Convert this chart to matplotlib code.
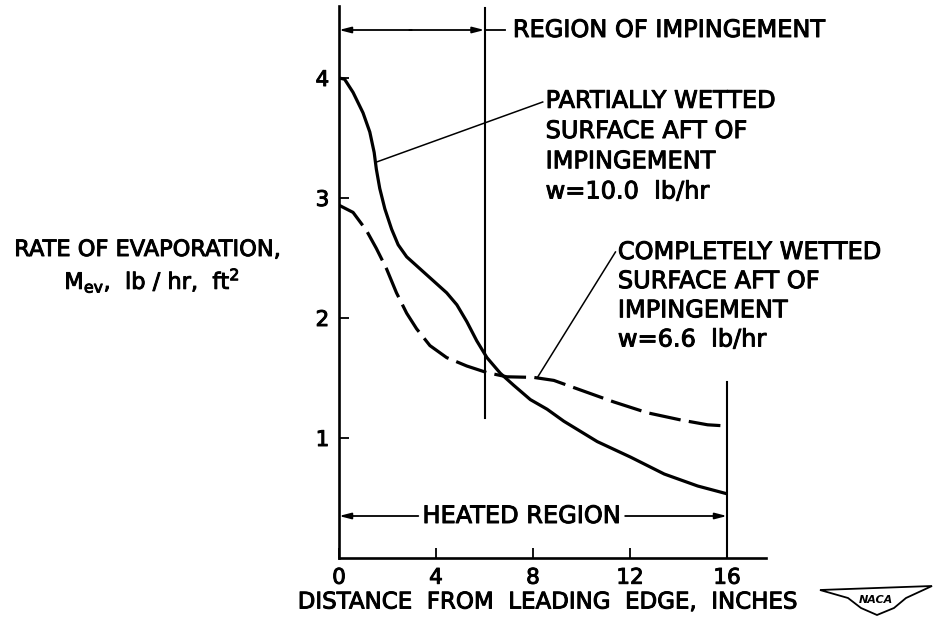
import matplotlib
matplotlib.use("Agg")
import matplotlib.pyplot as plt
import matplotlib.patheffects as pe
from matplotlib.patches import Polygon

# ---- data ----
partial_x = [0, 0.23, 0.58, 0.99, 1.27, 1.45, 1.54, 1.68, 1.89, 2.17, 2.44, 2.79, 3.34,
             3.89, 4.44, 4.86, 5.27, 5.68, 6.10, 6.65, 7.2, 7.89, 8.58, 9.27, 10.65,
             12.03, 13.41, 14.79, 16.0]
partial_y = [4.0, 3.99, 3.88, 3.71, 3.55, 3.38, 3.24, 3.08, 2.91, 2.74, 2.61, 2.51, 2.41,
             2.31, 2.21, 2.11, 1.97, 1.81, 1.67, 1.54, 1.44, 1.32, 1.24, 1.14, 0.97,
             0.84, 0.70, 0.60, 0.535]

complete_x = [0, 0.58, 1.13, 1.54, 1.96, 2.37, 2.79, 3.2, 3.75, 4.44, 5.27, 6.1, 6.92,
              8.03, 8.86, 9.96, 11.34, 12.72, 14.1, 15.2, 16.0]
complete_y = [2.94, 2.88, 2.73, 2.58, 2.41, 2.21, 2.04, 1.91, 1.77, 1.67, 1.60, 1.545, 1.51,
              1.505, 1.48, 1.40, 1.30, 1.21, 1.15, 1.11, 1.10]

x_ticks = [0, 4, 8, 12, 16]
y_ticks = [1, 2, 3, 4]

impingement_end = 6.0
heated_end = 16.0

partial_label = ["PARTIALLY WETTED", "SURFACE AFT OF", "IMPINGEMENT", "w=10.0  lb/hr"]
complete_label = ["COMPLETELY WETTED", "SURFACE AFT OF", "IMPINGEMENT", "w=6.6  lb/hr"]

W, H = 934, 629
fig = plt.figure(figsize=(W / 100, H / 100), dpi=100)
plt.rcParams['font.family'] = ['DejaVu Sans']
heavy = [pe.withStroke(linewidth=0.7, foreground='black')]

# axes placement: x=0 at px 339, 24.25 px/unit; y=0 at px 558, 120 px/unit
xmax, ymax = 17.6, 4.6
left = 339 / W
bottom = (H - 558) / H
ax = fig.add_axes([left, bottom, xmax * 24.25 / W, ymax * 120 / H])
ax.set_xlim(0, xmax)
ax.set_ylim(0, ymax)
for s in ('top', 'right'):
    ax.spines[s].set_visible(False)
for s in ('left', 'bottom'):
    ax.spines[s].set_linewidth(1.9)

ax.set_xticks(x_ticks)
ax.set_yticks(y_ticks)
ax.set_xticklabels([str(v) for v in x_ticks])
ax.set_yticklabels([str(v) for v in y_ticks])
ax.tick_params(direction='in', length=7, width=1.3, labelsize=15.5)
ax.tick_params(axis='x', pad=7)
ax.tick_params(axis='y', pad=7)
for lab in ax.get_xticklabels() + ax.get_yticklabels():
    lab.set_path_effects(heavy)

# curves
ax.plot(partial_x, partial_y, color='black', lw=2.3, solid_capstyle='butt',
        solid_joinstyle='round')
ax.plot(complete_x, complete_y, color='black', lw=2.3, dashes=(10, 2.6),
        dash_capstyle='butt', dash_joinstyle='round')

# vertical region boundaries
ax.plot([impingement_end, impingement_end], [1.17, 4.58], color='black', lw=1.5)
ax.plot([heated_end, heated_end], [0, 1.47], color='black', lw=1.5)

aprops = dict(arrowstyle='-|>,head_length=0.7,head_width=0.18', color='black', lw=1.3,
              shrinkA=0, shrinkB=0)
txt = dict(fontsize=17.3, path_effects=heavy)

# region of impingement
y_imp = 4.40
ax.annotate('', xy=(0, y_imp), xytext=(3.0, y_imp), arrowprops=aprops)
ax.annotate('', xy=(impingement_end, y_imp), xytext=(2.9, y_imp), arrowprops=aprops)
ax.plot([impingement_end, 6.85], [y_imp, y_imp], color='black', lw=1.3)
ax.text(7.17, y_imp, "REGION OF IMPINGEMENT", va='center', ha='left', **txt)

# heated region
y_h = 0.35
ax.annotate('', xy=(0, y_h), xytext=(3.27, y_h), arrowprops=aprops)
ax.annotate('', xy=(heated_end, y_h), xytext=(11.8, y_h), arrowprops=aprops)
ax.text(7.53, y_h, "HEATED REGION", va='center', ha='center', **txt)

# leader lines
ax.plot([1.55, 8.4], [3.30, 3.80], color='black', lw=1.1)
ax.plot([8.2, 11.4], [1.51, 2.55], color='black', lw=1.1)

for i, line in enumerate(partial_label):
    ax.text(8.52, 3.81 - i * 0.252, line, va='center', ha='left', **txt)
for i, line in enumerate(complete_label):
    ax.text(11.5, 2.55 - i * 0.243, line, va='center', ha='left', **txt)

# axis labels
fig.text(148 / W, 1 - 250 / H, "RATE OF EVAPORATION,", fontsize=16.2, ha='center',
         va='center', path_effects=heavy)
fig.text(152 / W, 1 - 281 / H, r"M$_{\mathrm{ev}}$,  lb / hr,  ft$^{2}$", fontsize=16.2,
         ha='center', va='center', path_effects=heavy)
fig.text(547 / W, 1 - 602 / H, "DISTANCE  FROM  LEADING  EDGE,  INCHES", fontsize=16.5,
         ha='center', va='center', path_effects=heavy)

# NACA logo
pts = [(820, 590), (932, 586), (906, 598), (894, 608), (877, 615), (861, 608), (848, 598)]
fig.add_artist(Polygon([(x / W, 1 - y / H) for x, y in pts], closed=True,
                       transform=fig.transFigure, facecolor='white', edgecolor='black', lw=1.3))
fig.text(876 / W, 1 - 600 / H, "NACA", fontsize=8, fontweight='bold', ha='center',
         va='center', style='italic')

fig.savefig("out.png", dpi=100)
